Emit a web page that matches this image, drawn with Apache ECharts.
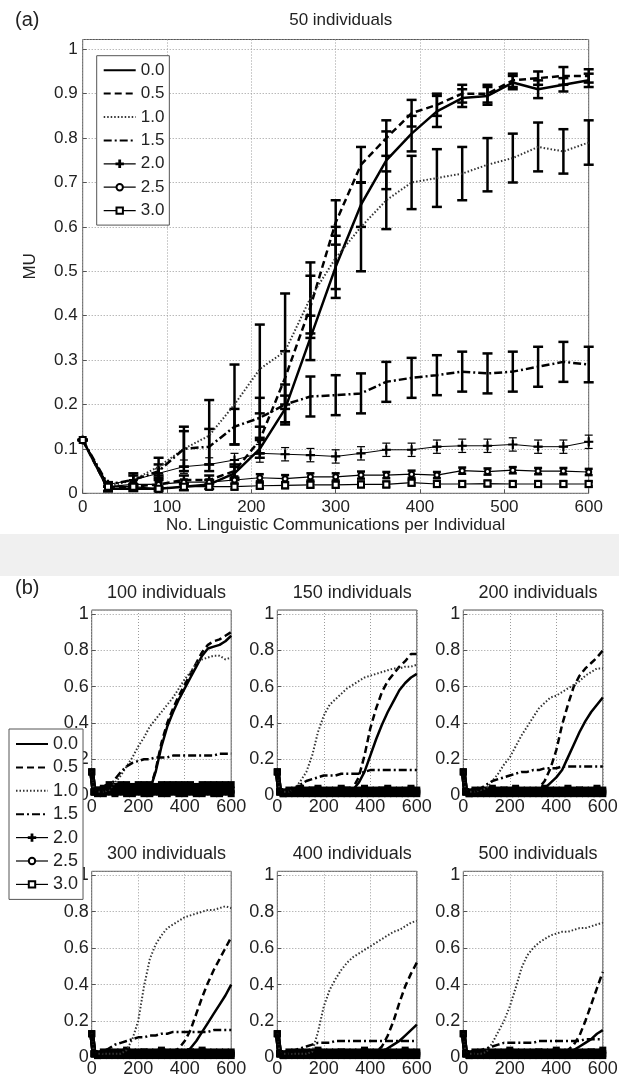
<!DOCTYPE html>
<html>
<head>
<meta charset="utf-8">
<script src="https://cdn.jsdelivr.net/npm/echarts@6/dist/echarts.min.js"></script>
<style>
html, body { margin: 0; padding: 0; background: #fff; }
#diagram { width: 619px; height: 1078px; }
</style>
</head>
<body>
<div id="diagram"></div>
<script>
var myChart = echarts.init(document.getElementById("diagram"));
var FONT = "'Liberation Sans', Arial, sans-serif";

var seriesNames = ["0.0", "0.5", "1.0", "1.5", "2.0", "2.5", "3.0"];

// (a) 50 individuals, one point every 30 communications, mean and error half-width
var xsTop = [0, 30, 60, 90, 120, 150, 180, 210, 240, 270, 300, 330, 360, 390, 420, 450, 480, 510, 540, 570, 600];
var mu00 = [.12, .01, .01, .01, .015, .02, .045, .1, .19, .35, .51, .65, .75, .81, .86, .89, .895, .925, .91, .92, .93];
var mu05 = [.12, .01, .015, .02, .03, .03, .05, .12, .26, .42, .61, .74, .8, .856, .875, .9, .9, .93, .935, .94, .94];
var mu10 = [.12, .015, .03, .06, .1, .13, .2, .28, .32, .44, .53, .6, .66, .7, .71, .72, .74, .755, .78, .77, .79];
var mu15 = [.12, .02, .03, .05, .1, .105, .15, .17, .2, .218, .221, .225, .251, .26, .266, .274, .27, .274, .285, .296, .29];
var mu20 = [.12, .02, .03, .045, .06, .065, .075, .09, .088, .086, .083, .09, .098, .098, .105, .107, .107, .11, .105, .105, .116];
var mu25 = [.12, .015, .02, .02, .025, .025, .03, .035, .033, .037, .037, .041, .041, .043, .041, .051, .049, .052, .05, .05, .048];
var mu30 = [.12, .015, .015, .01, .015, .015, .015, .017, .018, .019, .019, .02, .02, .024, .021, .021, .022, .021, .021, .021, .021];
var err00 = [0, .005, .005, .005, .008, .01, .015, .02, .03, .05, .07, .05, .065, .04, .035, .02, .02, .015, .02, .015, .015];
var err05 = [0, .005, .005, .01, .01, .01, .015, .03, .06, .07, .05, .04, .04, .03, .025, .02, .02, .015, .015, .02, .015];
var err10 = [0, .01, .015, .02, .05, .08, .09, .1, .13, .08, .07, .1, .065, .06, .065, .06, .06, .055, .055, .05, .05];
var err15 = [0, .005, .01, .015, .04, .04, .04, .045, .045, .045, .045, .045, .045, .045, .045, .045, .045, .045, .045, .045, .04];
var err20 = [0, .005, .01, .01, .015, .015, .015, .02, .015, .015, .015, .015, .015, .015, .015, .015, .015, .015, .015, .015, .015];
var err25 = [0, .005, .005, .005, .006, .006, .008, .008, .008, .008, .008, .008, .007, .008, .007, .007, .007, .007, .007, .007, .007];
var err30 = [0, .006, .006, .006, .006, .006, .006, .006, .006, .006, .006, .006, .006, .006, .006, .006, .006, .006, .006, .006, .006];

// (b) larger populations
var xsBottom = [0, 10, 25, 50, 75, 100, 125, 150, 175, 200, 225, 250, 275, 300, 325, 350, 375, 400, 425, 450, 475, 500, 525, 550, 575, 600];

var n100_00 = [.13, .02, .02, .02, .02, .02, .02, .02, .02, .02, .02, .03, .13, .27, .38, .46, .53, .59, .65, .71, .77, .81, .82, .83, .85, .88];
var n100_05 = [.13, .02, .02, .02, .02, .02, .02, .02, .02, .02, .02, .03, .14, .29, .4, .48, .55, .61, .67, .73, .79, .83, .85, .86, .88, .9];
var n100_10 = [.13, .02, .02, .02, .03, .07, .11, .16, .21, .27, .32, .38, .42, .46, .5, .54, .59, .64, .68, .73, .75, .76, .77, .77, .75, .76];
var n100_15 = [.13, .02, .02, .02, .04, .09, .13, .16, .18, .19, .2, .2, .21, .21, .21, .22, .22, .22, .22, .22, .22, .22, .22, .23, .23, .23];
var n100_20 = [.13, .02, .03, .04, .06, .05, .06, .06, .05, .06, .06, .06, .05, .06, .06, .06, .06, .06, .06, .05, .06, .06, .06, .06, .06, .06];
var n100_25 = [.13, .02, .03, .03, .03, .04, .03, .03, .04, .03, .03, .04, .03, .03, .03, .04, .03, .03, .03, .04, .03, .03, .04, .03, .03, .03];
var n100_30 = [.13, .02, .01, .01, .02, .01, .02, .01, .01, .02, .01, .01, .02, .01, .01, .02, .01, .01, .02, .01, .01, .02, .01, .01, .02, .01];

var n150_00 = [.13, .02, .02, .02, .02, .02, .02, .02, .02, .02, .02, .02, .02, .02, .03, .07, .13, .22, .31, .39, .46, .52, .58, .62, .65, .67];
var n150_05 = [.13, .02, .02, .02, .02, .02, .02, .02, .02, .02, .02, .02, .02, .02, .04, .1, .22, .37, .48, .57, .63, .67, .71, .74, .78, .78];
var n150_10 = [.13, .02, .02, .02, .04, .08, .13, .22, .35, .44, .5, .53, .56, .59, .61, .63, .65, .66, .67, .68, .69, .7, .7, .71, .71, .72];
var n150_15 = [.13, .02, .02, .02, .04, .06, .08, .09, .1, .11, .11, .11, .12, .12, .12, .12, .13, .14, .14, .14, .14, .14, .14, .14, .14, .14];
var n150_20 = [.13, .02, .02, .03, .03, .04, .03, .03, .04, .03, .03, .03, .04, .03, .03, .03, .04, .03, .03, .03, .04, .03, .03, .03, .04, .03];
var n150_25 = [.13, .02, .01, .02, .02, .02, .02, .03, .02, .02, .02, .02, .02, .03, .02, .02, .02, .02, .02, .03, .02, .02, .02, .02, .02, .02];
var n150_30 = [.13, .02, .01, .01, .01, .01, .01, .01, .01, .01, .01, .01, .01, .01, .01, .01, .01, .01, .01, .01, .01, .01, .01, .01, .01, .01];

var n200_00 = [.13, .02, .02, .02, .02, .02, .02, .02, .02, .02, .02, .02, .02, .02, .03, .04, .07, .1, .14, .21, .28, .35, .41, .46, .5, .54];
var n200_05 = [.13, .02, .02, .02, .02, .02, .02, .02, .02, .02, .02, .02, .02, .02, .04, .08, .15, .25, .39, .5, .6, .66, .7, .73, .76, .8];
var n200_10 = [.13, .02, .02, .02, .03, .04, .08, .12, .17, .21, .27, .33, .38, .43, .48, .51, .54, .55, .57, .59, .61, .63, .66, .68, .7, .7];
var n200_15 = [.13, .02, .02, .02, .04, .06, .08, .09, .1, .11, .12, .13, .13, .14, .14, .15, .15, .15, .16, .16, .16, .16, .16, .16, .16, .16];
var n200_20 = [.13, .02, .02, .03, .03, .03, .04, .03, .03, .03, .04, .03, .03, .03, .03, .04, .03, .03, .03, .04, .03, .03, .03, .03, .04, .03];
var n200_25 = [.13, .02, .01, .02, .02, .02, .02, .02, .03, .02, .02, .02, .02, .02, .02, .03, .02, .02, .02, .02, .02, .03, .02, .02, .02, .02];
var n200_30 = [.13, .02, .01, .01, .01, .01, .01, .01, .01, .01, .01, .01, .01, .01, .01, .01, .01, .01, .01, .01, .01, .01, .01, .01, .01, .01];

var n300_00 = [.13, .02, .02, .02, .02, .02, .02, .02, .02, .02, .02, .02, .02, .02, .02, .02, .02, .03, .05, .09, .14, .19, .24, .29, .34, .4];
var n300_05 = [.13, .02, .02, .02, .02, .02, .02, .02, .02, .02, .02, .02, .02, .02, .02, .03, .05, .09, .15, .24, .33, .41, .48, .54, .6, .66];
var n300_10 = [.13, .02, .02, .02, .02, .02, .02, .04, .1, .2, .39, .54, .62, .67, .71, .73, .75, .77, .78, .79, .8, .81, .81, .82, .83, .82];
var n300_15 = [.13, .02, .02, .03, .05, .07, .08, .09, .1, .11, .11, .12, .12, .13, .13, .14, .14, .14, .14, .14, .14, .14, .15, .15, .15, .15];
var n300_20 = [.13, .02, .02, .03, .03, .03, .03, .04, .03, .03, .03, .03, .03, .04, .03, .03, .03, .03, .03, .03, .04, .03, .03, .03, .03, .03];
var n300_25 = [.13, .02, .01, .02, .02, .02, .02, .02, .02, .02, .03, .02, .02, .02, .02, .02, .02, .02, .03, .02, .02, .02, .02, .02, .02, .02];
var n300_30 = [.13, .02, .01, .01, .01, .01, .01, .01, .01, .01, .01, .01, .01, .01, .01, .01, .01, .01, .01, .01, .01, .01, .01, .01, .01, .01];

var n400_00 = [.13, .02, .02, .02, .02, .02, .02, .02, .02, .02, .02, .02, .02, .02, .02, .02, .02, .02, .02, .03, .05, .07, .09, .12, .15, .18];
var n400_05 = [.13, .02, .02, .02, .02, .02, .02, .02, .02, .02, .02, .02, .02, .02, .02, .02, .02, .02, .03, .06, .12, .2, .3, .39, .46, .52];
var n400_10 = [.13, .02, .02, .02, .02, .02, .02, .03, .14, .28, .37, .43, .48, .52, .55, .57, .59, .61, .63, .65, .67, .69, .7, .72, .74, .75];
var n400_15 = [.13, .02, .02, .02, .04, .05, .06, .07, .08, .08, .08, .09, .09, .09, .09, .09, .09, .09, .09, .09, .09, .09, .09, .09, .09, .09];
var n400_20 = [.13, .02, .02, .03, .03, .03, .03, .03, .04, .03, .03, .03, .03, .03, .03, .03, .04, .03, .03, .03, .03, .03, .03, .04, .03, .03];
var n400_25 = [.13, .02, .01, .02, .02, .02, .02, .02, .02, .02, .02, .02, .03, .02, .02, .02, .02, .02, .02, .02, .02, .02, .02, .02, .02, .02];
var n400_30 = [.13, .02, .01, .01, .01, .01, .01, .01, .01, .01, .01, .01, .01, .01, .01, .01, .01, .01, .01, .01, .01, .01, .01, .01, .01, .01];

var n500_00 = [.13, .02, .02, .02, .02, .02, .02, .02, .02, .02, .02, .02, .02, .02, .02, .02, .02, .02, .02, .03, .04, .06, .08, .1, .13, .15];
var n500_05 = [.13, .02, .02, .02, .02, .02, .02, .02, .02, .02, .02, .02, .02, .02, .02, .02, .02, .02, .02, .04, .07, .12, .2, .29, .38, .47];
var n500_10 = [.13, .02, .02, .02, .02, .03, .08, .14, .2, .28, .38, .49, .56, .6, .63, .65, .67, .68, .69, .69, .7, .71, .71, .72, .73, .74];
var n500_15 = [.13, .02, .02, .02, .04, .05, .06, .07, .08, .08, .08, .08, .08, .08, .09, .09, .09, .09, .09, .09, .09, .09, .1, .1, .1, .1];
var n500_20 = [.13, .02, .02, .03, .03, .03, .03, .03, .03, .04, .03, .03, .03, .03, .03, .03, .03, .04, .03, .03, .03, .03, .03, .03, .03, .04];
var n500_25 = [.13, .02, .01, .02, .02, .02, .02, .02, .02, .02, .02, .02, .02, .02, .03, .02, .02, .02, .02, .02, .02, .02, .02, .03, .02, .02];
var n500_30 = [.13, .02, .01, .01, .01, .01, .01, .01, .01, .01, .01, .01, .01, .01, .01, .01, .01, .01, .01, .01, .01, .01, .01, .01, .01, .01];

var panelTitles = ["100 individuals", "150 individuals", "200 individuals", "300 individuals", "400 individuals", "500 individuals"];
var panelData = [
  [n100_00, n100_05, n100_10, n100_15, n100_20, n100_25, n100_30],
  [n150_00, n150_05, n150_10, n150_15, n150_20, n150_25, n150_30],
  [n200_00, n200_05, n200_10, n200_15, n200_20, n200_25, n200_30],
  [n300_00, n300_05, n300_10, n300_15, n300_20, n300_25, n300_30],
  [n400_00, n400_05, n400_10, n400_15, n400_20, n400_25, n400_30],
  [n500_00, n500_05, n500_10, n500_15, n500_20, n500_25, n500_30]
];
var topMeans = [mu00, mu05, mu10, mu15, mu20, mu25, mu30];
var topErrors = [err00, err05, err10, err15, err20, err25, err30];

var Y_MAX = 1.022;
var lineStyles = [
  { color: "#000", width: 2.5, type: "solid" },
  { color: "#000", width: 2.5, type: [7, 4] },
  { color: "#333", width: 2, type: [1.5, 2] },
  { color: "#000", width: 2.5, type: [8, 3, 2, 3] },
  { color: "#000", width: 1, type: "solid" },
  { color: "#000", width: 1.2, type: "solid" },
  { color: "#000", width: 1.2, type: "solid" }
];
var topSymbols = ["none", "none", "none", "none", "path://M4.4,0H5.6V4.4H10V5.6H5.6V10H4.4V5.6H0V4.4H4.4Z", "emptyCircle", "emptyRect"];
var topSymbolSizes = [0, 0, 0, 0, 8, 5, 6];
var barWidths = [2.5, 2.5, 2.5, 2.5, 1.2, 2.5, 3];

function pairs(xs, ys) {
  return xs.map(function (x, i) { return [x, ys[i]]; });
}

function errorBarItem(lineWidth, capHalf) {
  return function (params, api) {
    var x = api.value(0);
    var low = api.coord([x, api.value(1)]);
    var high = api.coord([x, api.value(2)]);
    var style = { stroke: "#000", lineWidth: lineWidth };
    return {
      type: "group",
      children: [
        { type: "line", shape: { x1: low[0], y1: low[1], x2: high[0], y2: high[1] }, style: style },
        { type: "line", shape: { x1: low[0] - capHalf, y1: low[1], x2: low[0] + capHalf, y2: low[1] }, style: style },
        { type: "line", shape: { x1: high[0] - capHalf, y1: high[1], x2: high[0] + capHalf, y2: high[1] }, style: style }
      ]
    };
  };
}

function yLabel(v) {
  return String(+v.toFixed(1));
}

var grids = [{ left: 82.7, top: 39.5, width: 506, height: 453.8 }];
var colLefts = [91.7, 277.3, 463.3];
var rowTops = [610, 871.3];
var rowHeights = [185.5, 186.1];
for (var r = 0; r < 2; r++) {
  for (var c = 0; c < 3; c++) {
    grids.push({ left: colLefts[c], top: rowTops[r], width: 139.5, height: rowHeights[r] });
  }
}
grids.forEach(function (g) {
  g.show = true;
  g.borderColor = "#555";
  g.borderWidth = 1;
  g.backgroundColor = "#fff";
  g.outerBoundsMode = "none";
});

var splitStyle = { show: true, lineStyle: { color: "#9a9a9a", width: 1, type: [1, 2] } };
var xAxes = [], yAxes = [];
grids.forEach(function (g, i) {
  var big = i === 0;
  xAxes.push({
    gridIndex: i, type: "value", min: 0, max: 600, interval: big ? 100 : 200,
    axisLine: { show: false },
    axisTick: { show: true, inside: true, length: 4, lineStyle: { color: "#555" } },
    splitLine: splitStyle,
    axisLabel: { fontSize: big ? 17 : 18, color: "#222", fontFamily: FONT, margin: big ? 6 : 3 },
    name: big ? "No. Linguistic Communications per Individual" : "",
    nameLocation: "middle", nameGap: 23,
    nameTextStyle: { fontSize: 17, color: "#222", fontFamily: FONT }
  });
  yAxes.push({
    gridIndex: i, type: "value", min: 0, max: Y_MAX, interval: big ? 0.1 : 0.2,
    axisLine: { show: false },
    axisTick: { show: true, inside: true, length: 4, lineStyle: { color: "#555" } },
    splitLine: splitStyle,
    axisLabel: { fontSize: big ? 17 : 18, color: "#222", fontFamily: FONT, margin: big ? 5 : 3, showMaxLabel: false, formatter: yLabel },
    name: big ? "MU" : "",
    nameLocation: "middle", nameGap: 44,
    nameTextStyle: { fontSize: 17, color: "#222", fontFamily: FONT }
  });
});

var series = [];
// panel (a): error bars first, then lines on top
topMeans.forEach(function (mu, k) {
  series.push({
    name: seriesNames[k] + " err", type: "custom", xAxisIndex: 0, yAxisIndex: 0,
    renderItem: errorBarItem(barWidths[k], k < 4 ? 5 : 4),
    encode: { x: 0, y: [1, 2] },
    data: xsTop.map(function (x, i) { return [x, mu[i] - topErrors[k][i], mu[i] + topErrors[k][i]]; }),
    z: 2, silent: true
  });
});
topMeans.forEach(function (mu, k) {
  series.push({
    name: seriesNames[k], type: "line", xAxisIndex: 0, yAxisIndex: 0,
    data: pairs(xsTop, mu),
    symbol: topSymbols[k], symbolSize: topSymbolSizes[k], showSymbol: k >= 4,
    lineStyle: lineStyles[k],
    itemStyle: { color: "#000", borderColor: "#000", borderWidth: 1.2 },
    z: 3
  });
});
// panel (b): the three strongest-bias runs stay near zero and merge into a black band
panelData.forEach(function (panel, p) {
  panel.forEach(function (ys, k) {
    var band = k >= 4;
    series.push({
      name: seriesNames[k], type: "line", xAxisIndex: p + 1, yAxisIndex: p + 1,
      data: pairs(xsBottom, ys),
      symbol: band ? "rect" : "none", symbolSize: 7, showSymbol: band,
      lineStyle: band ? { color: "#000", width: 5, type: "solid" } : lineStyles[k],
      itemStyle: { color: "#000" },
      z: band ? 3 : 4
    });
  });
});

function legendAt(left, top, fontSize, gap) {
  return {
    data: seriesNames.map(function (n, k) {
      return k < 4 ? { name: n, itemStyle: { opacity: 0 } } : { name: n, lineStyle: { width: 1.2 } };
    }),
    orient: "vertical", left: left, top: top,
    itemWidth: 32, itemHeight: 8, itemGap: gap,
    padding: [6, 5, 6, 6], borderColor: "#555", borderWidth: 1, backgroundColor: "#fff",
    textStyle: { fontSize: fontSize, color: "#222", fontFamily: FONT },
    selectedMode: false, z: 10
  };
}

var titleCenters = [161.5, 347.3, 533];
var titles = [
  { text: "50 individuals", left: 335.7, top: 7, textAlign: "center", size: 17 },
  { text: "(a)", left: 10, top: 5, size: 20 },
  { text: "(b)", left: 10, top: 573, size: 20 }
];
panelTitles.forEach(function (t, p) {
  titles.push({ text: t, left: titleCenters[p % 3], top: p < 3 ? 579 : 840, textAlign: "center", size: 18 });
});
titles.forEach(function (t) {
  t.textStyle = { fontSize: t.size, fontWeight: "normal", color: "#222", fontFamily: FONT };
  delete t.size;
});

var option = {
  animation: false,
  backgroundColor: "#fff",
  title: titles,
  legend: [legendAt(96.7, 55.7, 17, 6.4), legendAt(9, 729, 18, 5.4)],
  graphic: [{ type: "rect", left: 0, top: 534, shape: { width: 619, height: 42 }, style: { fill: "#f0f0f0" }, z: -10, silent: true }],
  grid: grids,
  xAxis: xAxes,
  yAxis: yAxes,
  series: series
};
myChart.setOption(option);
</script>
</body>
</html>
